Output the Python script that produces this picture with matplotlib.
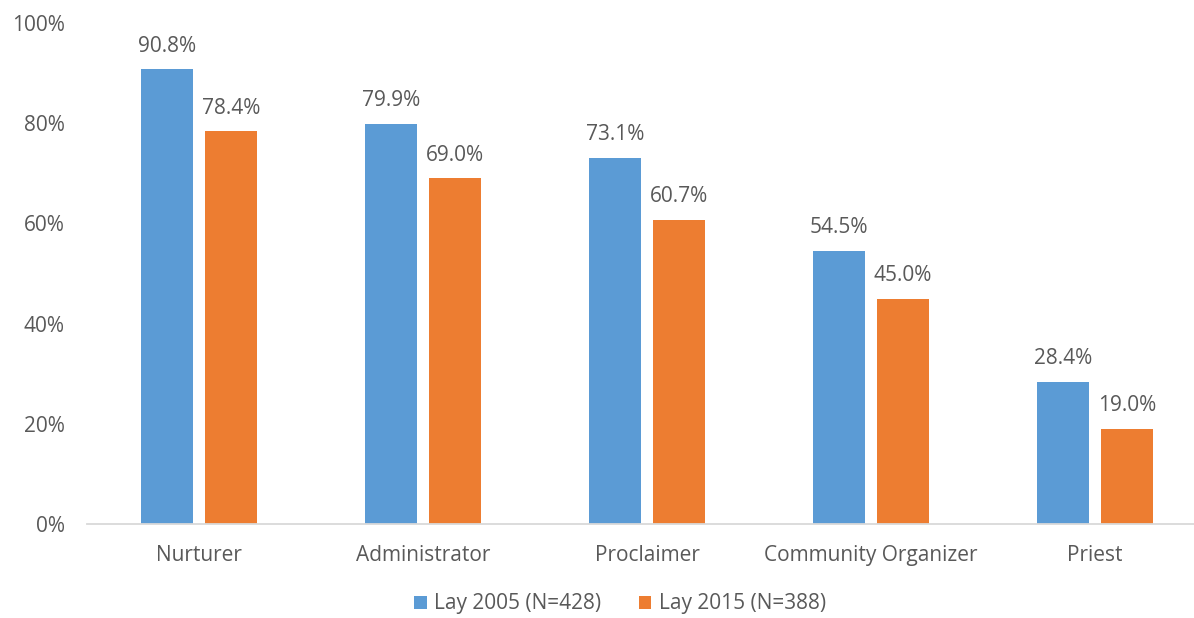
import matplotlib
matplotlib.use("Agg")
import matplotlib.pyplot as plt
import numpy as np

categories = ["Nurturer", "Administrator", "Proclaimer", "Community Organizer", "Priest"]
lay_2005 = [90.8, 79.9, 73.1, 54.5, 28.4]
lay_2015 = [78.4, 69.0, 60.7, 45.0, 19.0]
series_names = ["Lay 2005 (N=428)", "Lay 2015 (N=388)"]
y_ticks = [0, 20, 40, 60, 80, 100]

BLUE = "#5B9BD5"
ORANGE = "#ED7D31"
TEXT = "#595959"
FS = 15

plt.rcParams["font.family"] = ["Open Sans", "DejaVu Sans"]

fig = plt.figure(figsize=(11.94, 6.18), dpi=100)
W, H = 1194, 618
x0, x1 = 87, 1207
y0, y1 = 524, 23
ax = fig.add_axes([x0 / W, 1 - y0 / H, (x1 - x0) / W, (y0 - y1) / H])

x = np.arange(len(categories))
bw = 0.228
off = 0.143
b1 = ax.bar(x - off, lay_2005, bw, color=BLUE, label=series_names[0])
b2 = ax.bar(x + off, lay_2015, bw, color=ORANGE, label=series_names[1])

for bars, vals in ((b1, lay_2005), (b2, lay_2015)):
    for rect, v in zip(bars, vals):
        ax.annotate(f"{v:.1f}%", (rect.get_x() + rect.get_width() / 2, v),
                    xytext=(0, 9), textcoords="offset points",
                    ha="center", va="bottom", fontsize=FS, color=TEXT)

ax.set_xlim(-0.5, len(categories) - 0.5)
ax.set_ylim(0, 100)
ax.set_yticks(y_ticks)
ax.set_yticklabels([f"{t}%" for t in y_ticks])
ax.set_xticks(x)
ax.set_xticklabels(categories)
ax.tick_params(axis="both", length=0, labelsize=FS, labelcolor=TEXT)
ax.tick_params(axis="y", pad=16)
ax.tick_params(axis="x", pad=15)

for s in ("top", "right", "left"):
    ax.spines[s].set_visible(False)
ax.spines["bottom"].set_color("#D9D9D9")
ax.spines["bottom"].set_linewidth(1.3)

leg = fig.legend(handles=[b1, b2], labels=series_names, loc="center",
                 bbox_to_anchor=(620 / W, 1 - 604 / H), ncol=2, frameon=False,
                 fontsize=FS, handlelength=0.6, handleheight=0.6,
                 columnspacing=1.8, handletextpad=0.35, borderpad=0.2)
for t in leg.get_texts():
    t.set_color(TEXT)

fig.savefig("out.png", dpi=100)
